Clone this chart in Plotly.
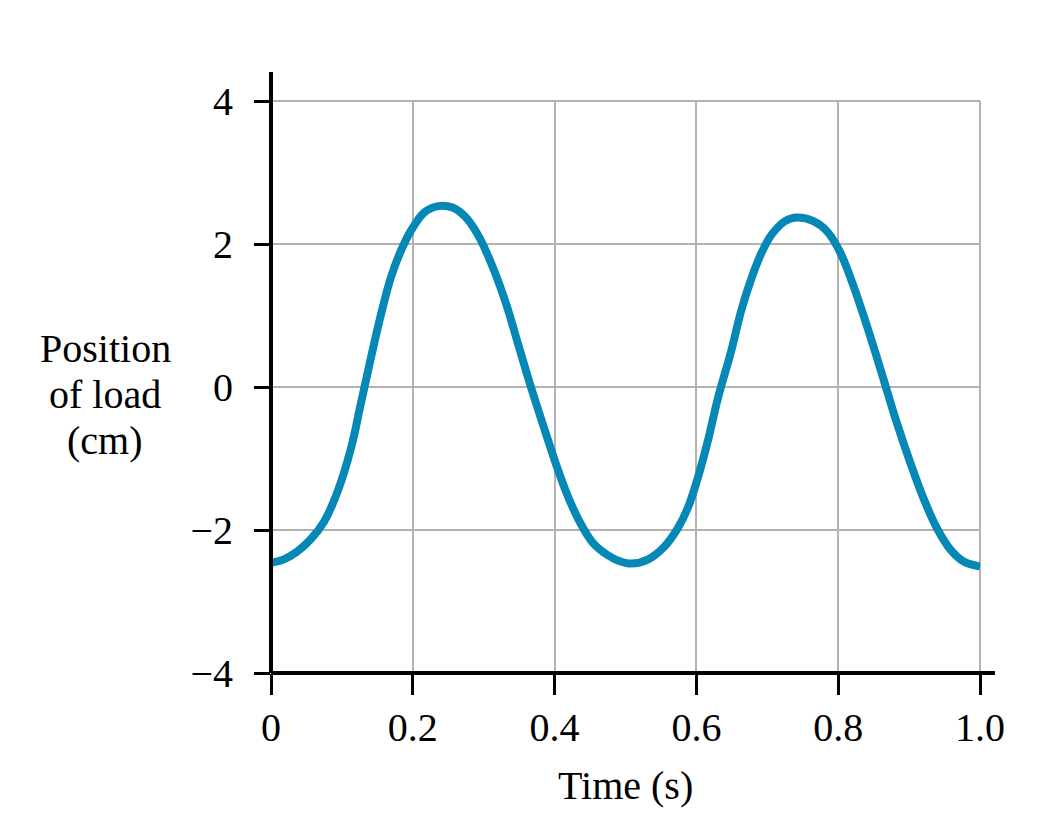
import plotly.graph_objects as go

# Data
time_s = [0.000, 0.018, 0.037, 0.056, 0.075, 0.094, 0.113, 0.127, 0.141,
          0.155, 0.169, 0.183, 0.197, 0.216, 0.236, 0.256, 0.275, 0.294, 0.313,
          0.332, 0.350, 0.366, 0.388, 0.402, 0.416, 0.435, 0.454, 0.473,
          0.490, 0.508, 0.532, 0.555, 0.574, 0.588, 0.602, 0.616, 0.630,
          0.649, 0.663, 0.678, 0.692, 0.706, 0.725, 0.742, 0.765, 0.784, 0.802,
          0.821, 0.840, 0.859, 0.882, 0.901, 0.920, 0.939, 0.958, 0.977,
          1.000]
position_cm = [-2.46, -2.41, -2.30, -2.13, -1.88, -1.46, -0.85, -0.22, 0.41,
               1.01, 1.53, 1.90, 2.18, 2.44, 2.53, 2.51, 2.37, 2.09, 1.67,
               1.15, 0.55, 0.02, -0.66, -1.08, -1.46, -1.88, -2.18, -2.34,
               -2.43, -2.47, -2.41, -2.23, -1.97, -1.69, -1.27, -0.76, -0.17,
               0.50, 1.06, 1.53, 1.88, 2.13, 2.32, 2.37, 2.32, 2.18, 1.90,
               1.43, 0.87, 0.27, -0.48, -1.04, -1.55, -1.97, -2.27, -2.44,
               -2.51]

x_ticks = [0, 0.2, 0.4, 0.6, 0.8, 1.0]
x_ticklabels = ["0", "0.2", "0.4", "0.6", "0.8", "1.0"]
y_ticks = [-4, -2, 0, 2, 4]
y_ticklabels = ["\u22124", "\u22122", "0", "2", "4"]

FONT = "Liberation Serif"
FS = 40
GRID = "#b2b2b2"

fig = go.Figure()
fig.add_trace(go.Scatter(
    x=time_s, y=position_cm, mode="lines",
    line=dict(color="#0688b6", width=8, shape="spline", smoothing=1.0),
    hoverinfo="skip", showlegend=False,
))

fig.update_layout(
    width=1064, height=822,
    margin=dict(l=271, r=84, t=101, b=149),
    paper_bgcolor="white", plot_bgcolor="white",
    font=dict(family=FONT, size=FS, color="black"),
    xaxis=dict(
        range=[0, 1.0], tickvals=x_ticks, ticktext=x_ticklabels,
        showgrid=True, gridcolor=GRID, gridwidth=2, zeroline=False,
        showline=False, ticks="outside", ticklen=21, tickwidth=3, tickcolor="black",
        tickfont=dict(family=FONT, size=FS, color="black"),
        ticklabelstandoff=-2,
    ),
    yaxis=dict(
        range=[-4, 4], tickvals=y_ticks, ticktext=y_ticklabels,
        showgrid=True, gridcolor=GRID, gridwidth=2, zeroline=False,
        showline=False, ticks="outside", ticklen=16, tickwidth=3, tickcolor="black",
        tickfont=dict(family=FONT, size=FS, color="black"),
        ticklabelstandoff=13,
    ),
    shapes=[
        # grid lines on the far edges of the box
        dict(type="line", xref="paper", yref="paper", x0=1, x1=1, y0=0, y1=1,
             line=dict(color=GRID, width=2), layer="below"),
        dict(type="line", xref="paper", yref="paper", x0=0, x1=1, y0=1, y1=1,
             line=dict(color=GRID, width=2), layer="below"),
        # black axis lines extending past the box
        dict(type="line", xref="paper", yref="paper", x0=0, x1=1.021, y0=0, y1=0,
             line=dict(color="black", width=4), layer="above"),
        dict(type="line", xref="paper", yref="paper", x0=0, x1=0, y0=0, y1=1.0507,
             line=dict(color="black", width=4), layer="above"),
    ],
    annotations=[
        dict(text="Time (s)", xref="paper", yref="paper", x=(625 - 271) / 709,
             y=-(785 - 673) / 572, showarrow=False, xanchor="center", yanchor="middle",
             font=dict(family=FONT, size=FS, color="black")),
        dict(text="Position", xref="paper", yref="paper", x=(105 - 271) / 709,
             y=(673 - 348) / 572, showarrow=False, xanchor="center", yanchor="middle",
             font=dict(family=FONT, size=FS, color="black")),
        dict(text="of load", xref="paper", yref="paper", x=(105 - 271) / 709,
             y=(673 - 394) / 572, showarrow=False, xanchor="center", yanchor="middle",
             font=dict(family=FONT, size=FS, color="black")),
        dict(text="(cm)", xref="paper", yref="paper", x=(105 - 271) / 709,
             y=(673 - 440) / 572, showarrow=False, xanchor="center", yanchor="middle",
             font=dict(family=FONT, size=FS, color="black")),
    ],
)

fig.write_html("out.html")
